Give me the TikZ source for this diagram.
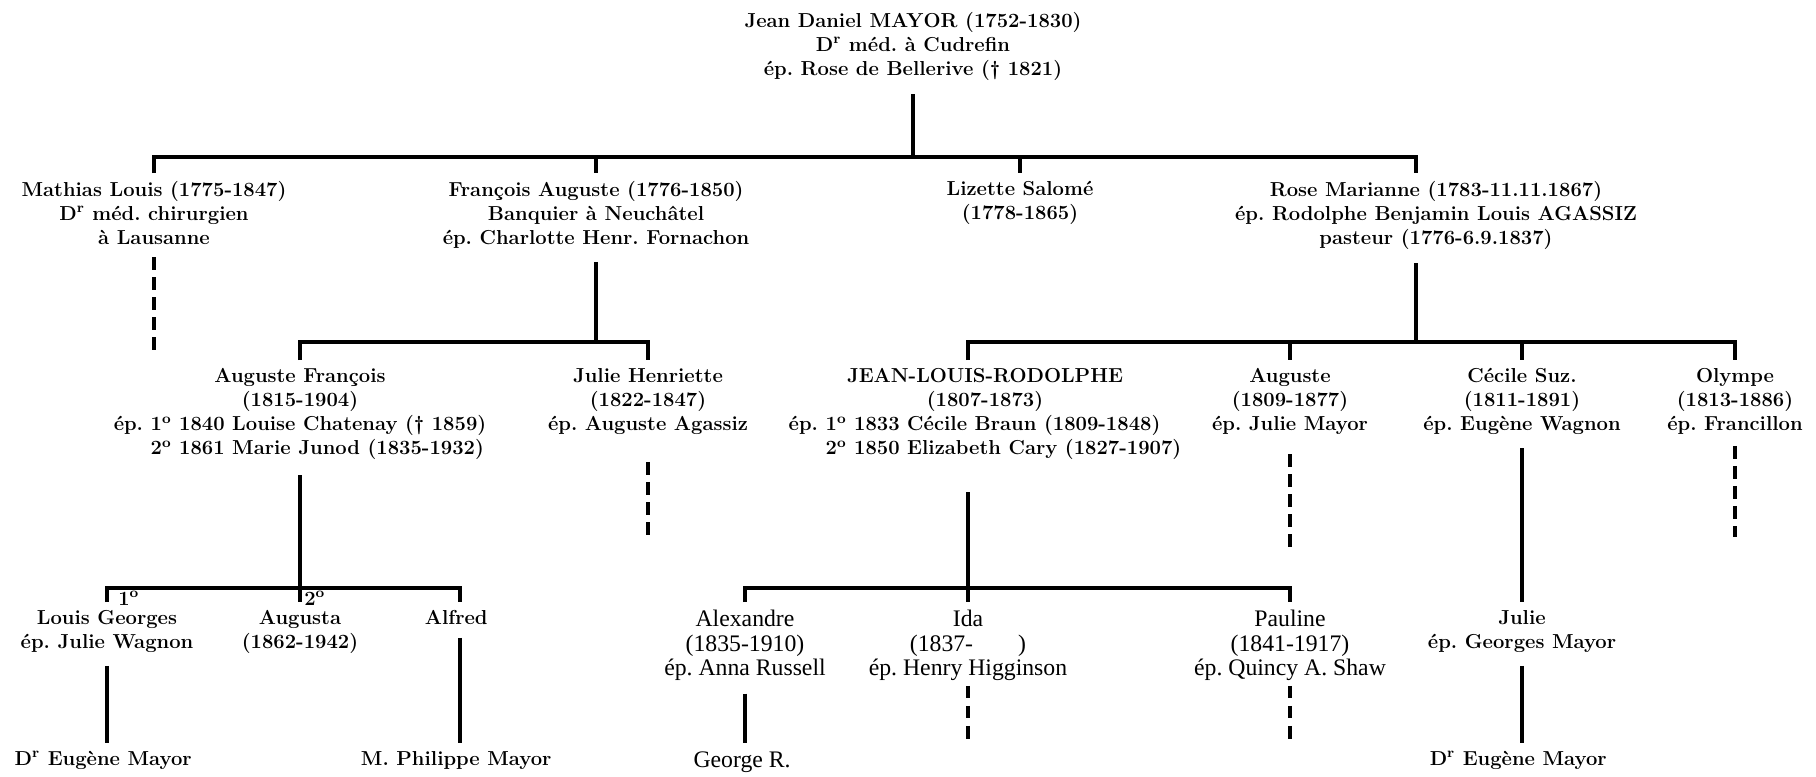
\documentclass[tikz,border=0pt]{standalone}
\usepackage{fontspec}
\newfontfamily\thinfont{Liberation Serif}
\usepackage{tikz}

\begin{document}
\begin{tikzpicture}[
    person/.style={align=center, anchor=north, inner sep=0pt,
      font=\bfseries\fontsize{11.5}{13.7}\selectfont\frenchspacing},
    thin/.style={person, font=\thinfont\fontsize{13.5}{13.8}\selectfont\frenchspacing},
    stem/.style={line width=1.8pt, shorten <=2.6mm},
    desc/.style={line width=1.8pt, shorten <=2.6mm, shorten >=1.6mm},
    bar/.style={line width=1.8pt, shorten <=1.6mm, shorten >=1.6mm},
    tick/.style={line width=1.8pt, shorten >=1.6mm},
    dashline/.style={line width=1.8pt, dash pattern=on 7.2pt off 4.2pt, shorten <=2.4mm}]
  \useasboundingbox (0,0) rectangle (36.32,-15.52);

  \node[person] (jd) at (18.26,-0.24) { Jean Daniel MAYOR (1752-1830)\\D\textsuperscript{r} méd. à Cudrefin\\ép. Rose de Bellerive (\textdagger~1821) };

  \node[person] (mathias)  at ( 3.08,-3.62) { Mathias Louis (1775-1847)\\D\textsuperscript{r} méd. chirurgien\\à Lausanne };
  \node[person] (francois) at (11.92,-3.62) { François Auguste (1776-1850)\\Banquier à Neuchâtel\\ép. Charlotte Henr. Fornachon };
  \node[person] (lizette)  at (20.40,-3.62) { Lizette Salomé\\(1778-1865) };
  \node[person] (rose)     at (28.72,-3.62) { Rose Marianne (1783-11.11.1867)\\ép. Rodolphe Benjamin Louis AGASSIZ\\pasteur (1776-6.9.1837) };

  \node[person] (augfr)   at ( 6.00,-7.36) { Auguste François\\(1815-1904)\\\begin{tabular}[t]{@{}r@{~}l@{}}ép.&1\textsuperscript{o} 1840 Louise Chatenay (\textdagger~1859)\\&2\textsuperscript{o} 1861 Marie Junod (1835-1932)\end{tabular} };
  \node[person] (julieh)  at (12.96,-7.36) { Julie Henriette\\(1822-1847)\\ép. Auguste Agassiz };
  \node[person] (jlr)     at (19.70,-7.36) { JEAN-LOUIS-RODOLPHE\\(1807-1873)\\\begin{tabular}[t]{@{}r@{~}l@{}}ép.&1\textsuperscript{o} 1833 Cécile Braun (1809-1848)\\&2\textsuperscript{o} 1850 Elizabeth Cary (1827-1907)\end{tabular} };
  \node[person] (auguste) at (25.80,-7.36) { Auguste\\(1809-1877)\\ép. Julie Mayor };
  \node[person] (cecile)  at (30.44,-7.36) { Cécile Suz.\\(1811-1891)\\ép. Eugène Wagnon };
  \node[person] (olympe)  at (34.70,-7.36) { Olympe\\(1813-1886)\\ép. Francillon };

  \node[person] (lg)        at ( 2.14,-12.2) { Louis Georges\\ép. Julie Wagnon };
  \node[person] (augusta)   at ( 6.00,-12.2) { Augusta\\(1862-1942) };
  \node[person] (alfred)    at ( 9.20,-12.2) { Alfred };
  \node[thin]   (alexandre) at (14.90,-12.2) { Alexandre\\(1835-1910)\\ép. Anna Russell };
  \node[thin]   (ida)       at (19.36,-12.2) { Ida\\(1837-\hspace{1.9em})\\ép. Henry Higginson };
  \node[thin]   (pauline)   at (25.80,-12.2) { Pauline\\(1841-1917)\\ép. Quincy A. Shaw };
  \node[person] (julie)     at (30.44,-12.2) { Julie\\ép. Georges Mayor };
  \node[person, anchor=base west] (first)  at (2.36,-12.1) { 1\textsuperscript{o} };
  \node[person, anchor=base west] (second) at (6.08,-12.1) { 2\textsuperscript{o} };

  \node[person] (eugene)   at ( 2.14,-15.02) { D\textsuperscript{r} Eugène Mayor };
  \node[person] (philippe) at ( 9.20,-15.02) { M. Philippe Mayor };
  \node[thin]   (george)   at (14.90,-15.02) { George R. };
  \node[person] (eugenew)  at (30.44,-15.02) { D\textsuperscript{r} Eugène Mayor };

  \coordinate (b0) at (0,-3.14);
  \coordinate (b1) at (0,-6.84);
  \coordinate (b2) at (0,-11.76);
  \coordinate (rosex) at ([xshift=-4mm]rose.north);
  \coordinate (rosey) at ([xshift=-4mm]rose.south);
  \coordinate (jlrx) at ([xshift=-3.4mm]jlr.north);
  \coordinate (jlry) at ([xshift=-3.4mm]jlr.south);

  \draw[stem] (jd.south) -- (jd.south |- b0);
  \draw[bar] (mathias.north) -- (mathias.north |- b0) -- (rosex |- b0) -- (rosex);
  \draw[tick] (francois.north |- b0) -- (francois.north);
  \draw[tick] (lizette.north |- b0) -- (lizette.north);

  \draw[stem] (francois.south) -- (francois.south |- b1);
  \draw[bar] (augfr.north) -- (augfr.north |- b1) -- (julieh.north |- b1) -- (julieh.north);

  \draw[stem] (rosey) -- (rosey |- b1);
  \draw[bar] (jlrx) -- (jlrx |- b1) -- (olympe.north |- b1) -- (olympe.north);
  \draw[tick] (auguste.north |- b1) -- (auguste.north);
  \draw[tick] (cecile.north |- b1) -- (cecile.north);

  \draw[stem] (augfr.south) -- (augfr.south |- b2);
  \draw[bar] (lg.north) -- (lg.north |- b2) -- (alfred.north |- b2) -- (alfred.north);
  \draw[tick] (augusta.north |- b2) -- (augusta.north);

  \draw[stem, shorten <=6mm] (jlry) -- (jlry |- b2);
  \draw[bar] (alexandre.north) -- (alexandre.north |- b2) -- (pauline.north |- b2) -- (pauline.north);
  \draw[tick] (ida.north |- b2) -- (ida.north);

  \draw[desc] (cecile.south) -- (julie.north);
  \draw[desc] (julie.south) -- (eugenew.north);
  \draw[desc] (lg.south) -- (eugene.north);
  \draw[desc] (alfred.south) -- (philippe.north);
  \draw[desc] (alexandre.south) -- (george.north);

  \coordinate (mathias-end) at ( 3.08,-7.06);
  \coordinate (julieh-end)  at (12.96,-10.7);
  \coordinate (auguste-end) at (25.80,-11.0);
  \coordinate (olympe-end)  at (34.70,-10.74);
  \coordinate (ida-end)     at (19.36,-14.82);
  \coordinate (pauline-end) at (25.80,-14.82);
  \draw[dashline] (mathias.south) -- (mathias-end);
  \draw[dashline, shorten <=5.4mm] (julieh.south) -- (julieh-end);
  \draw[dashline, shorten <=3.8mm] (auguste.south) -- (auguste-end);
  \draw[dashline, shorten <=2.2mm] (olympe.south) -- (olympe-end);
  \draw[dashline, shorten <=1mm] (ida.south) -- (ida-end);
  \draw[dashline, shorten <=1mm] (pauline.south) -- (pauline-end);
\end{tikzpicture}
\end{document}
